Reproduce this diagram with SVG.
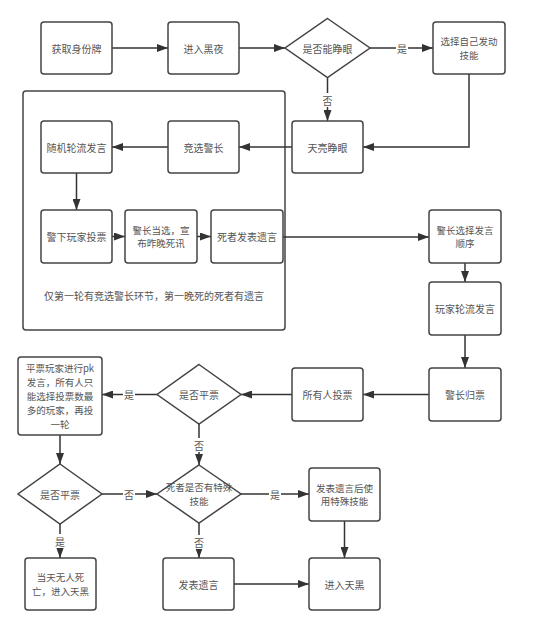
<svg xmlns="http://www.w3.org/2000/svg" width="550" height="629" viewBox="0 0 550 629">
<style>
.box{fill:#fff;stroke:#444;stroke-width:1.5}
.dia{fill:#fff;stroke:#444;stroke-width:1.5}
.t{font-family:"Noto Sans CJK SC","Liberation Sans",sans-serif;font-size:10px;fill:#555;text-anchor:middle;dominant-baseline:central}
.s{font-size:9.5px}
.ln{fill:none;stroke:#333;stroke-width:1.5;marker-end:url(#ah)}
.lb{fill:#fff}
</style>
<defs>
<marker id="ah" markerUnits="userSpaceOnUse" markerWidth="11" markerHeight="8" refX="11" refY="4" orient="auto">
<path d="M0,0 L11,4 L0,8 z" fill="#333"/>
</marker>
</defs>
<rect width="550" height="629" fill="#fff"/>
<g id="container">
<rect class="box" x="23" y="91" width="262" height="239" rx="3"/>
<text class="t" x="154" y="295">仅第一轮有竞选警长环节，第一晚死的死者有遗言</text>
</g>
<g id="connectors">
<path class="ln" d="M112,48 H168"/>
<path class="ln" d="M239,48 H285"/>
<path class="ln" d="M370,48 H433"/>
<path class="ln" d="M327.5,77.5 V121"/>
<path class="ln" d="M469,74 V147 H363"/>
<path class="ln" d="M292,147 H239"/>
<path class="ln" d="M168,147 H112"/>
<path class="ln" d="M76.5,173 V210"/>
<path class="ln" d="M112,236.5 H125"/>
<path class="ln" d="M197,236.5 H211"/>
<path class="ln" d="M283,237 H429"/>
<path class="ln" d="M465,263 V282"/>
<path class="ln" d="M465,335 V368"/>
<path class="ln" d="M429,394.5 H363"/>
<path class="ln" d="M292,394.5 H241"/>
<path class="ln" d="M157,394.5 H102"/>
<path class="ln" d="M199,424 V465"/>
<path class="ln" d="M60,435 V464"/>
<path class="ln" d="M102,494 H157"/>
<path class="ln" d="M241,494 H309"/>
<path class="ln" d="M60,524 V558"/>
<path class="ln" d="M199,523 V558"/>
<path class="ln" d="M234,584 H309"/>
<path class="ln" d="M344.5,521 V558"/>
<rect class="lb" x="396" y="41" width="12" height="14"/><text class="t" x="402" y="48">是</text>
<rect class="lb" x="321" y="93" width="13" height="14"/><text class="t" x="327.5" y="100">否</text>
<rect class="lb" x="123" y="387" width="12" height="14"/><text class="t" x="129" y="394.5">是</text>
<rect class="lb" x="193" y="438" width="12" height="14"/><text class="t" x="199" y="445">否</text>
<rect class="lb" x="123" y="487" width="12" height="14"/><text class="t" x="129" y="494">否</text>
<rect class="lb" x="269" y="487" width="12" height="14"/><text class="t" x="275" y="494">是</text>
<rect class="lb" x="54" y="534" width="12" height="14"/><text class="t" x="60" y="541">是</text>
<rect class="lb" x="193" y="535" width="12" height="14"/><text class="t" x="199" y="542">否</text>
</g>
<g id="n1"><rect class="box" x="41" y="22" width="71" height="52" rx="3"/><text class="t" x="76.5" y="48">获取身份牌</text></g>
<g id="n2"><rect class="box" x="168" y="22" width="71" height="52" rx="3"/><text class="t" x="203.5" y="48">进入黑夜</text></g>
<g id="d1"><polygon class="dia" points="327.5,18.5 370,48 327.5,77.5 285,48"/><text class="t" x="327.5" y="48">是否能睁眼</text></g>
<g id="n3"><rect class="box" x="433" y="22" width="72" height="52" rx="3"/><text class="t s" x="469" y="41.1">选择自己发动</text><text class="t s" x="469" y="54.9">技能</text></g>
<g id="n4"><rect class="box" x="41" y="121" width="71" height="52" rx="3"/><text class="t" x="76.5" y="147">随机轮流发言</text></g>
<g id="n5"><rect class="box" x="168" y="121" width="71" height="52" rx="3"/><text class="t" x="203.5" y="147">竞选警长</text></g>
<g id="n6"><rect class="box" x="292" y="121" width="71" height="52" rx="3"/><text class="t" x="327.5" y="147">天亮睁眼</text></g>
<g id="n7"><rect class="box" x="41" y="210" width="71" height="53" rx="3"/><text class="t" x="76.5" y="236.5">警下玩家投票</text></g>
<g id="n8"><rect class="box" x="125" y="210" width="72" height="53" rx="3"/><text class="t s" x="161" y="229.6">警长当选，宣</text><text class="t s" x="161" y="243.4">布昨晚死讯</text></g>
<g id="n9"><rect class="box" x="211" y="210" width="72" height="53" rx="3"/><text class="t" x="247" y="236.5">死者发表遗言</text></g>
<g id="n10"><rect class="box" x="429" y="210" width="72" height="53" rx="3"/><text class="t s" x="465" y="229.6">警长选择发言</text><text class="t s" x="465" y="243.4">顺序</text></g>
<g id="n11"><rect class="box" x="429" y="282" width="72" height="53" rx="3"/><text class="t" x="465" y="308.5">玩家轮流发言</text></g>
<g id="n12"><rect class="box" x="429" y="368" width="72" height="53" rx="3"/><text class="t" x="465" y="394.5">警长归票</text></g>
<g id="n13"><rect class="box" x="292" y="368" width="71" height="53" rx="3"/><text class="t" x="327.5" y="394.5">所有人投票</text></g>
<g id="d2"><polygon class="dia" points="199,364.5 241,394.5 199,424 157,394.5"/><text class="t" x="199" y="394.5">是否平票</text></g>
<g id="n14"><rect class="box" x="18" y="357" width="84" height="78" rx="3"/>
<text class="t s" x="60" y="368.4">平票玩家进行pk</text>
<text class="t s" x="60" y="382.2">发言，所有人只</text>
<text class="t s" x="60" y="396">能选择投票数最</text>
<text class="t s" x="60" y="409.8">多的玩家，再投</text>
<text class="t s" x="60" y="423.6">一轮</text></g>
<g id="d3"><polygon class="dia" points="60,464 102,494 60,524 18,494"/><text class="t" x="60" y="494">是否平票</text></g>
<g id="d4"><polygon class="dia" points="199,465 241,494 199,523 157,494"/><text class="t s" x="199" y="487.1">死者是否有特殊</text><text class="t s" x="199" y="500.9">技能</text></g>
<g id="n15"><rect class="box" x="309" y="468" width="71" height="53" rx="3"/><text class="t s" x="344.5" y="487.6">发表遗言后使</text><text class="t s" x="344.5" y="501.4">用特殊技能</text></g>
<g id="n16"><rect class="box" x="25" y="558" width="71" height="52" rx="3"/><text class="t s" x="60.5" y="577.1">当天无人死</text><text class="t s" x="60.5" y="590.9">亡，进入天黑</text></g>
<g id="n17"><rect class="box" x="163" y="558" width="71" height="52" rx="3"/><text class="t" x="198.5" y="584">发表遗言</text></g>
<g id="n18"><rect class="box" x="309" y="558" width="71" height="52" rx="3"/><text class="t" x="344.5" y="584">进入天黑</text></g>
</svg>
